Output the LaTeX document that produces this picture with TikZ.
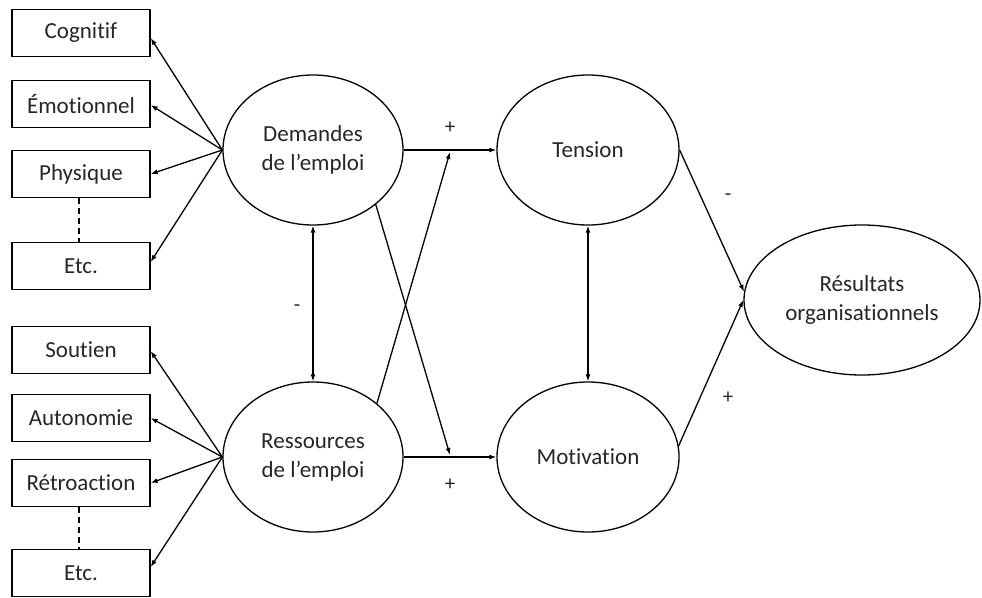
\documentclass[tikz,border=0pt]{standalone}
\usepackage{fontspec}
\setmainfont{Carlito}[Ligatures=NoCommon]
\usetikzlibrary{shapes.geometric,arrows.meta}

\begin{document}
\begin{tikzpicture}[x=1pt,y=-1pt,
  every node/.style={font=\fontsize{23}{29}\selectfont, text=black!85},
  box/.style={draw, line width=1.3pt, minimum width=138pt, minimum height=47pt, inner sep=0pt},
  latent/.style={draw, ellipse, line width=1.3pt, inner sep=0pt, align=center},
  link/.style={line width=1.3pt, -{Latex[length=7pt,width=5pt]}},
  both/.style={line width=1.3pt, {Latex[length=7pt,width=5pt]}-{Latex[length=7pt,width=5pt]}},
  sign/.style={font=\fontsize{21}{25}\selectfont}
]
\useasboundingbox (0,0) rectangle (982,597);

% indicator boxes
\node[box] (cog)  at (81,33)  {Cognitif};
\node[box] (emo)  at (81,104) {Émotionnel};
\node[box] (phy)  at (81,174) {Physique};
\node[box] (etc1) at (81,266) {Etc.};
\node[box] (sou)  at (81,350) {Soutien};
\node[box] (aut)  at (81,418) {Autonomie};
\node[box] (ret)  at (81,483) {Rétroaction};
\node[box] (etc2) at (81,573) {Etc.};

% latent constructs
\node[latent, minimum width=180pt, minimum height=150pt] (dem) at (313,150) {Demandes\\de l’emploi};
\node[latent, minimum width=180pt, minimum height=150pt] (res) at (313,457) {Ressources\\de l’emploi};
\node[latent, minimum width=182pt, minimum height=150pt] (ten) at (588,150) {Tension};
\node[latent, minimum width=182pt, minimum height=150pt] (mot) at (588,457) {Motivation};
\node[latent, minimum width=236pt, minimum height=150pt] (out) at (862,300) {Résultats\\organisationnels};

% junction points on the horizontal paths
\coordinate (tx) at (450,152);
\coordinate (mx) at (450,455);

% indicators of job demands
\draw[link] (dem.west) -- ([yshift=-5pt]cog.east);
\draw[link] (dem.west) -- ([yshift=-1pt]emo.east);
\draw[link] (dem.west) -- (phy.east);
\draw[link] (dem.west) -- ([yshift=4pt]etc1.east);
\draw[line width=1.3pt, dash pattern=on 6pt off 4pt] ([xshift=-2pt]phy.south) -- ([xshift=-2pt]etc1.north);

% indicators of job resources
\draw[link] (res.west) -- ([yshift=-1pt]sou.east);
\draw[link] (res.west) -- (aut.east);
\draw[link] (res.west) -- (ret.east);
\draw[link] (res.west) -- ([yshift=6pt]etc2.east);
\draw[line width=1.3pt, dash pattern=on 6pt off 4pt] ([xshift=-2pt]ret.south) -- ([xshift=-2pt]etc2.north);

% structural paths
\draw[link] (dem.east) -- (ten.west);
\draw[link] (res.east) -- (mot.west);
\draw[link] (res.40) -- (tx);
\draw[link] (dem.-41) -- (mx);
\draw[both] (dem.south) -- (res.north);
\draw[both] (ten.south) -- (mot.north);
\draw[link] (ten.east) -- (out.176);
\draw[link] (mot.7) -- (out.west);

% signs
\node[sign] (s1) at (450,128) {+};
\node[sign] (s2) at (450,485) {+};
\node[sign] (s3) at (297,308) {-};
\node[sign] (s4) at (728,197) {-};
\node[sign] (s5) at (728,398) {+};
\end{tikzpicture}
\end{document}
